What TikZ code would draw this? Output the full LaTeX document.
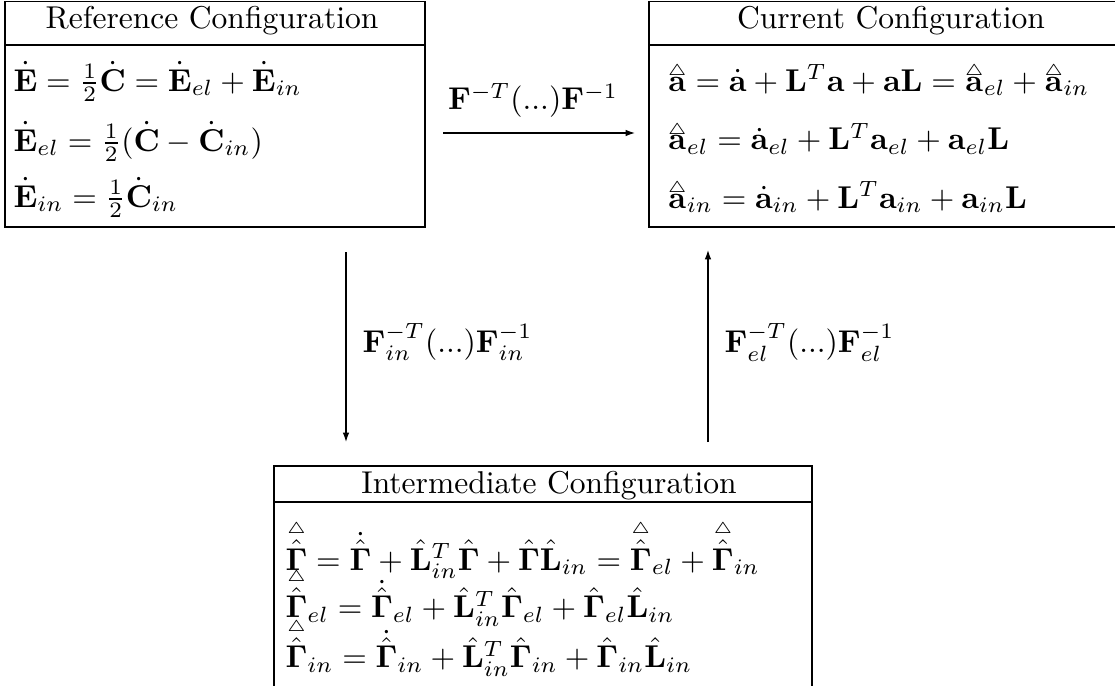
\documentclass[tikz,border=0pt]{standalone}
\usepackage{amsmath}
\usetikzlibrary{fit,arrows.meta}
\newcommand\trih[1]{\overset{\raisebox{-1.6pt}[0.55ex][0pt]{$\scriptscriptstyle\triangle$}}{#1}}
\newcommand\trig[1]{\overset{\raisebox{-0.6pt}[0.55ex][0pt]{$\scriptscriptstyle\triangle$}}{#1}}
\begin{document}
\begin{tikzpicture}[x=0.317pt,y=-0.317pt,
  box/.style={draw,line width=0.62pt,inner sep=0pt},
  sep/.style={line width=0.62pt},
  eqline/.style={anchor=base west,inner sep=0pt},
  ttl/.style={anchor=base,inner sep=0pt},
  conn/.style={line width=0.38pt,-{Latex[length=3pt,width=2.1pt]}}]
\useasboundingbox (0,0) rectangle (1115,686);
\clip (0,0) rectangle (1115,686);
% boxes
\node[box,fit={(5,1.5) (425,227)}] (ref) {};
\node[box,fit={(649,1.5) (1135,227)}] (cur) {};
\node[box,fit={(274,466) (812,760)}] (int) {};
\draw[sep] (ref.west |- 0,45) -- (ref.east |- 0,45);
\draw[sep] (cur.west |- 0,45) -- (cur.east |- 0,45);
\draw[sep] (int.west |- 0,502) -- (int.east |- 0,502);
% titles
\node[ttl] (reft) at (212,28) {Reference Configuration};
\node[ttl] (curt) at (891,28) {Current Configuration};
\node[ttl] (intt) at (549,493) {Intermediate Configuration};
% reference equations
\node[eqline] (r1) at (13,91) {$\dot{\mathbf{E}} = \frac{1}{2}\dot{\mathbf{C}} = \dot{\mathbf{E}}_{el} + \dot{\mathbf{E}}_{in}$};
\node[eqline] (r2) at (13,151) {$\dot{\mathbf{E}}_{el} = \frac{1}{2}(\dot{\mathbf{C}} - \dot{\mathbf{C}}_{in})$};
\node[eqline] (r3) at (13,207) {$\dot{\mathbf{E}}_{in} = \frac{1}{2}\dot{\mathbf{C}}_{in}$};
% current equations
\node[eqline] (c1) at (667,91) {$\trih{\mathbf{a}} = \dot{\mathbf{a}} + \mathbf{L}^T\mathbf{a} + \mathbf{a}\mathbf{L} = \trih{\mathbf{a}}_{el} + \trih{\mathbf{a}}_{in}$};
\node[eqline] (c2) at (667,150) {$\trih{\mathbf{a}}_{el} = \dot{\mathbf{a}}_{el} + \mathbf{L}^T\mathbf{a}_{el} + \mathbf{a}_{el}\mathbf{L}$};
\node[eqline] (c3) at (667,208) {$\trih{\mathbf{a}}_{in} = \dot{\mathbf{a}}_{in} + \mathbf{L}^T\mathbf{a}_{in} + \mathbf{a}_{in}\mathbf{L}$};
% intermediate equations
\node[eqline] (i1) at (285,570) {$\trig{\hat{\mathbf{\Gamma}}} = \dot{\hat{\mathbf{\Gamma}}} + \hat{\mathbf{L}}_{in}^T\hat{\mathbf{\Gamma}} + \hat{\mathbf{\Gamma}}\hat{\mathbf{L}}_{in} = \trig{\hat{\mathbf{\Gamma}}}_{el} + \trig{\hat{\mathbf{\Gamma}}}_{in}$};
\node[eqline] (i2) at (285,618) {$\trig{\hat{\mathbf{\Gamma}}}_{el} = \dot{\hat{\mathbf{\Gamma}}}_{el} + \hat{\mathbf{L}}_{in}^T\hat{\mathbf{\Gamma}}_{el} + \hat{\mathbf{\Gamma}}_{el}\hat{\mathbf{L}}_{in}$};
\node[eqline] (i3) at (285,668) {$\trig{\hat{\mathbf{\Gamma}}}_{in} = \dot{\hat{\mathbf{\Gamma}}}_{in} + \hat{\mathbf{L}}_{in}^T\hat{\mathbf{\Gamma}}_{in} + \hat{\mathbf{\Gamma}}_{in}\hat{\mathbf{L}}_{in}$};
% connectors
\coordinate (h1) at (443,133);
\coordinate (h2) at (635,133);
\coordinate (d1) at (346,252);
\coordinate (d2) at (346,442);
\coordinate (u1) at (708,442);
\coordinate (u2) at (708,250);
\draw[conn] (h1) -- (h2);
\draw[conn] (d1) -- (d2);
\draw[conn] (u1) -- (u2);
\node[ttl] (hl) at (533,110) {$\mathbf{F}^{-T}(...)\mathbf{F}^{-1}$};
\node[eqline] (dl) at (362,352) {$\mathbf{F}_{in}^{-T}(...)\mathbf{F}_{in}^{-1}$};
\node[eqline] (ul) at (724,352) {$\mathbf{F}_{el}^{-T}(...)\mathbf{F}_{el}^{-1}$};
\end{tikzpicture}
\end{document}
